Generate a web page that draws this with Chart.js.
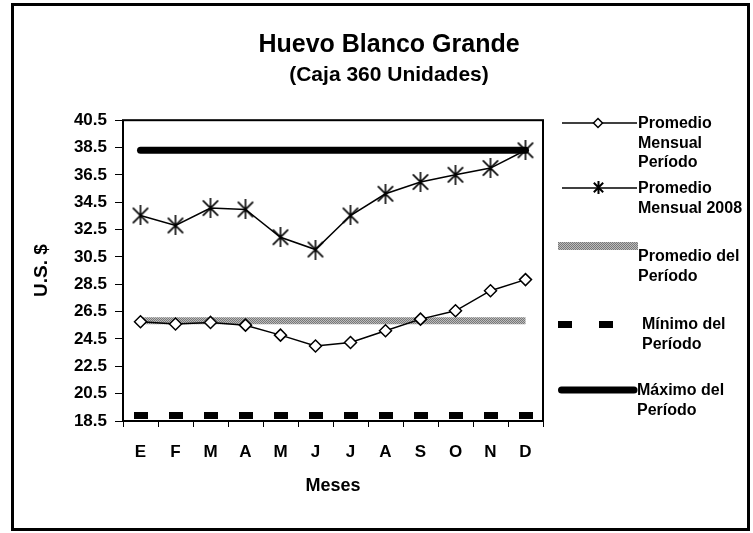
<!DOCTYPE html>
<html>
<head>
<meta charset="utf-8">
<script src="https://cdn.jsdelivr.net/npm/chart.js@4.4.1/dist/chart.umd.min.js"></script>
<style>
    body { margin: 0; background: #fff; }
    #wrap { position: relative; width: 753px; height: 533px; font-family: 'Liberation Sans', Arial, sans-serif; }
    #frame { position: absolute; left: 11px; top: 3px; width: 733px; height: 522px; border: 3px solid #000; pointer-events: none; }
    #myChart { position: absolute; left: 0; top: 0; }
    .lg-sym { position: absolute; }
    .lg-txt { position: absolute; font-weight: bold; font-size: 16px; line-height: 19.5px; color: #000; white-space: nowrap; }
</style>
</head>
<body>
<div id="wrap">
    <canvas id="myChart" width="753" height="533"></canvas>
    <div id="frame"></div>

    <canvas class="lg-sym" id="lg1" width="84" height="16" style="left:556px;top:115px"></canvas>
    <div class="lg-txt" style="left:638px;top:113px">Promedio<br>Mensual<br>Período</div>

    <canvas class="lg-sym" id="lg2" width="84" height="20" style="left:556px;top:178px"></canvas>
    <div class="lg-txt" style="left:638px;top:178px">Promedio<br>Mensual 2008</div>

    <canvas class="lg-sym" id="lg3" width="84" height="16" style="left:556px;top:238px"></canvas>
    <div class="lg-txt" style="left:638px;top:246px">Promedio del<br>Período</div>

    <canvas class="lg-sym" id="lg4" width="84" height="16" style="left:556px;top:316px"></canvas>
    <div class="lg-txt" style="left:642px;top:314px">Mínimo del<br>Período</div>

    <canvas class="lg-sym" id="lg5" width="84" height="16" style="left:556px;top:382px"></canvas>
    <div class="lg-txt" style="left:637px;top:380px">Máximo del<br>Período</div>
</div>

<script>
const months = ['E', 'F', 'M', 'A', 'M', 'J', 'J', 'A', 'S', 'O', 'N', 'D'];

const promedioMensualPeriodo = [25.76, 25.59, 25.71, 25.51, 24.78, 23.99, 24.24, 25.10, 25.95, 26.56, 28.03, 28.84];
const promedioMensual2008 = [33.53, 32.80, 34.07, 33.97, 31.94, 31.04, 33.53, 35.12, 35.98, 36.51, 37.00, 38.30];
const promedioPeriodo = [25.83, 25.83, 25.83, 25.83, 25.83, 25.83, 25.83, 25.83, 25.83, 25.83, 25.83, 25.83];
const minimoPeriodo = [18.9, 18.9, 18.9, 18.9, 18.9, 18.9, 18.9, 18.9, 18.9, 18.9, 18.9, 18.9];
const maximoPeriodo = [38.3, 38.3, 38.3, 38.3, 38.3, 38.3, 38.3, 38.3, 38.3, 38.3, 38.3, 38.3];

const yMin = 18.5;
const yMax = 40.5;
const yStep = 2;


// marker images
const starImg = (size, lw) => {
    const c = document.createElement('canvas');
    c.width = size; c.height = size;
    const g = c.getContext('2d');
    g.strokeStyle = '#000';
    g.lineWidth = lw;
    const m = size / 2, r = size / 2 - 1;
    g.beginPath();
    g.moveTo(m - r * 0.85, m - r * 0.85); g.lineTo(m + r * 0.85, m + r * 0.85);
    g.moveTo(m + r * 0.85, m - r * 0.85); g.lineTo(m - r * 0.85, m + r * 0.85);
    g.moveTo(m, 0); g.lineTo(m, size);
    g.stroke();
    return c;
}

const dashImg = () => {
    const c = document.createElement('canvas');
    c.width = 14; c.height = 7;
    const g = c.getContext('2d');
    g.fillStyle = '#000';
    g.fillRect(0, 0, 14, 7);
    return c;
}

const grayPattern = (ctx) => {
    const c = document.createElement('canvas');
    c.width = 2; c.height = 2;
    const g = c.getContext('2d');
    g.fillStyle = '#bcbcbc'; g.fillRect(0, 0, 2, 2);
    g.fillStyle = '#777777'; g.fillRect(0, 0, 1, 1); g.fillRect(1, 1, 1, 1);
    return ctx.createPattern(c, 'repeat');
}

const plotFrame = {
    id: 'plotFrame',
    beforeDatasetsDraw(chart) {
        const { ctx, chartArea: a } = chart;
        ctx.save();
        ctx.strokeStyle = '#000';
        ctx.lineWidth = 2;
        ctx.strokeRect(a.left, a.top, a.right - a.left, a.bottom - a.top);
        ctx.restore();
    }
}

Chart.defaults.font.family = "'Liberation Sans', Arial, sans-serif";
Chart.defaults.color = '#000';

const ctx = document.getElementById('myChart').getContext('2d');

const data = {
    labels: months,
    datasets: [
        {
            label: 'Promedio Mensual Período',
            data: promedioMensualPeriodo,
            borderColor: '#000',
            borderWidth: 1.5,
            pointStyle: 'rectRot',
            pointRadius: 6,
            pointBorderWidth: 1.5,
            pointBorderColor: '#000',
            pointBackgroundColor: '#fff',
            tension: 0
        },
        {
            label: 'Promedio Mensual 2008',
            data: promedioMensual2008,
            borderColor: '#000',
            borderWidth: 1.5,
            pointStyle: starImg(20, 1.6),
            pointRadius: 9,
            tension: 0
        },
        {
            label: 'Promedio del Período',
            data: promedioPeriodo,
            borderColor: grayPattern(ctx),
            borderWidth: 7,
            borderCapStyle: 'butt',
            pointRadius: 0
        },
        {
            label: 'Mínimo del Período',
            data: minimoPeriodo,
            showLine: false,
            pointStyle: dashImg(),
            pointRadius: 7
        },
        {
            label: 'Máximo del Período',
            data: maximoPeriodo,
            borderColor: '#000',
            borderWidth: 7,
            borderCapStyle: 'round',
            pointRadius: 0
        }
    ]
};

const config = {
    type: 'line',
    data: data,
    plugins: [plotFrame],
    options: {
        responsive: false,
        animation: false,
        layout: {
            padding: { left: 25, right: 0, top: 0, bottom: 36 }
        },
        plugins: {
            legend: { display: false },
            tooltip: { enabled: false },
            title: {
                display: true,
                text: 'Huevo Blanco Grande',
                font: { size: 25, weight: 'bold' },
                padding: { top: 30, bottom: 0 }
            },
            subtitle: {
                display: true,
                text: '(Caja 360 Unidades)',
                font: { size: 21, weight: 'bold' },
                color: '#000',
                padding: { top: 3, bottom: 32 }
            }
        },
        scales: {
            x: {
                offset: true,
                grid: {
                    offset: true,
                    drawOnChartArea: false,
                    drawTicks: true,
                    tickLength: 6,
                    color: '#000'
                },
                border: { display: false },
                ticks: {
                    padding: 15,
                    font: { size: 17, weight: 'bold' },
                    maxRotation: 0,
                    autoSkip: false
                },
                title: {
                    display: true,
                    text: 'Meses',
                    font: { size: 18, weight: 'bold' },
                    padding: { top: 13, bottom: 0 }
                },
                afterFit: (s) => { s.height = 76 }
            },
            y: {
                min: yMin,
                max: yMax,
                grid: {
                    drawOnChartArea: false,
                    drawTicks: true,
                    tickLength: 8,
                    color: '#000'
                },
                border: { display: false },
                ticks: {
                    stepSize: yStep,
                    padding: 8,
                    font: { size: 17, weight: 'bold' },
                    callback: (v) => Number(v).toFixed(1)
                },
                title: {
                    display: true,
                    text: 'U.S. $',
                    font: { size: 19, weight: 'bold' },
                    padding: { top: 5, bottom: 0 }
                },
                afterFit: (s) => { s.width = 98 }
            },
            yRight: {
                position: 'right',
                display: true,
                grid: { display: false },
                border: { display: false },
                ticks: { display: false },
                afterFit: (s) => { s.width = 210 }
            }
        }
    }
};

const myChart = new Chart(ctx, config);


// legend symbols
const lg = (id) => document.getElementById(id).getContext('2d');

let g = lg('lg1');
g.strokeStyle = '#000'; g.lineWidth = 1.5;
g.beginPath(); g.moveTo(6, 8); g.lineTo(81, 8); g.stroke();
g.beginPath(); g.moveTo(42, 3.5); g.lineTo(46.5, 8); g.lineTo(42, 12.5); g.lineTo(37.5, 8); g.closePath();
g.fillStyle = '#fff'; g.fill(); g.stroke();

g = lg('lg2');
g.strokeStyle = '#000'; g.lineWidth = 1.5;
g.beginPath(); g.moveTo(6, 10); g.lineTo(81, 10); g.stroke();
g.drawImage(starImg(13, 2), 36, 3);

g = lg('lg3');
g.fillStyle = grayPattern(g);
g.fillRect(2, 4, 80, 8);

g = lg('lg4');
g.fillStyle = '#000';
g.fillRect(2, 5, 14, 7);
g.fillRect(43, 5, 14, 7);

g = lg('lg5');
g.strokeStyle = '#000'; g.lineWidth = 7; g.lineCap = 'round';
g.beginPath(); g.moveTo(5.5, 8); g.lineTo(78, 8); g.stroke();
</script>
</body>
</html>
